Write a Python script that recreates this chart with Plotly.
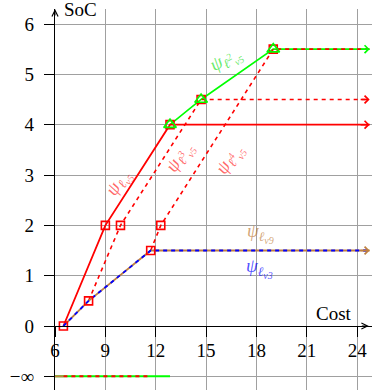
import plotly.graph_objects as go

# ---------------- data ----------------
x_ticks = [6, 9, 12, 15, 18, 21, 24]
y_ticks = [-1, 0, 1, 2, 3, 4, 5, 6]
y_ticktext = ["\u2212\u221e", "0", "1", "2", "3", "4", "5", "6"]

NEG_INF = -1          # position used for the "−∞" level

red_solid_cost = [6.5, 9.0, 12.85]
red_solid_soc = [0, 2, 4]

red_l3_cost = [8.0, 9.9, 14.7]
red_l3_soc = [0.5, 2, 4.5]

red_l4_cost = [11.7, 12.3, 19.0]
red_l4_soc = [1.5, 2, 5.5]

green_cost = [12.85, 14.7, 19.0]
green_soc = [4, 4.5, 5.5]

v3_cost = [6.5, 8.0, 11.7]
v3_soc = [0, 0.5, 1.5]
v9_cost = [6.5, 8.0, 11.7]
v9_soc = [0, 0.5, 1.5]

# "-inf" segments: [start cost, end cost]
green_neg = [6.0, 12.85]
red_neg = [6.5, 11.7]
brown_neg = [6.0, 6.5]

X_END = 24.74

RED = "#ff0000"
GREEN = "#00ff00"
BLUE = "#0000ff"
BROWN = "#bf8040"
FONT = "Liberation Serif"

fig = go.Figure()


def line(xs, ys, color, dash=None, width=1.6):
    fig.add_trace(go.Scatter(x=xs, y=ys, mode="lines",
                             line=dict(color=color, width=width, dash=dash),
                             hoverinfo="skip", showlegend=False, cliponaxis=False))


# -inf level
line(green_neg, [NEG_INF, NEG_INF], GREEN, width=2)
line(red_neg, [NEG_INF, NEG_INF], RED, dash="4px,4px", width=2)
line(brown_neg, [NEG_INF, NEG_INF], BROWN, width=2)

# main curves
line(green_cost + [X_END], green_soc + [green_soc[-1]], GREEN)
line(red_solid_cost + [X_END], red_solid_soc + [red_solid_soc[-1]], RED, width=1.8)
line(red_l3_cost + [X_END], red_l3_soc + [red_l3_soc[-1]], RED, dash="4px,4px")
line(red_l4_cost + [X_END], red_l4_soc + [red_l4_soc[-1]], RED, dash="4px,4px")
line(v9_cost + [X_END], v9_soc + [v9_soc[-1]], BROWN, width=1.8)
line(v3_cost + [X_END], v3_soc + [v3_soc[-1]], BLUE, dash="4px,4px", width=1.8)

# markers
fig.add_trace(go.Scatter(
    x=red_solid_cost + red_l3_cost + red_l4_cost,
    y=red_solid_soc + red_l3_soc + red_l4_soc,
    mode="markers", marker=dict(symbol="square-open", size=8, color=RED, line=dict(width=1.6)),
    hoverinfo="skip", showlegend=False, cliponaxis=False))
fig.add_trace(go.Scatter(
    x=green_cost, y=green_soc,
    mode="markers", marker=dict(symbol="triangle-up-open", size=11, color=GREEN, line=dict(width=1.6)),
    hoverinfo="skip", showlegend=False, cliponaxis=False))

annotations = []
# arrow heads at the ends of the curves
for yv, col in [(green_soc[-1], GREEN), (red_l3_soc[-1], RED), (red_solid_soc[-1], RED), (v9_soc[-1], BROWN)]:
    annotations.append(dict(x=X_END, y=yv, xref="x", yref="y", ax=-12, ay=0,
                            showarrow=True, arrowhead=4, arrowsize=1,
                            arrowwidth=1.5, arrowcolor=col, text=" ", opacity=1))

# axis arrows
annotations.append(dict(x=0.99, y=0.168, xref="paper", yref="paper", ax=-10, ay=0, showarrow=True,
                        arrowhead=5, arrowsize=1.2, arrowwidth=1, arrowcolor="black", text=" "))
annotations.append(dict(x=0, y=1.0, xref="paper", yref="paper", ax=0, ay=8, showarrow=True,
                        arrowhead=5, arrowsize=1.2, arrowwidth=1, arrowcolor="black", text=""))

# axis titles
annotations.append(dict(x=0.022, y=0.9974, xref="paper", yref="paper", xanchor="left", yanchor="middle",
                        text="SoC", showarrow=False, font=dict(family=FONT, size=19, color="black")))
annotations.append(dict(x=0.880, y=0.1995, xref="paper", yref="paper", xanchor="center", yanchor="middle",
                        text="Cost", showarrow=False, font=dict(family=FONT, size=19, color="black")))


def lab(sup, sub):
    s = "ψ<sub>ℓ"
    if sup:
        s += "<sup><span style='font-size:10px'>" + sup + "</span></sup>"
    s += "<sub><span style='font-size:10px'>" + sub + "</span></sub></sub>"
    return "<i>" + s + "</i>"


# curve labels
labels = [
    (16.18, 5.29, lab("2", "v5"), "rgba(0,220,0,0.6)", -30),
    (9.81, 2.84, lab("", "v5"), "rgba(255,0,0,0.6)", -58),
    (13.44, 3.34, lab("3", "v5"), "rgba(255,0,0,0.6)", -58),
    (16.42, 3.30, lab("4", "v5"), "rgba(255,0,0,0.6)", -58),
    (18.21, 1.85, lab("", "v9"), "rgba(191,128,64,0.7)", 0),
    (18.15, 1.15, lab("", "v3"), "rgba(0,0,255,0.7)", 0),
]
for lx, ly, txt, col, ang in labels:
    annotations.append(dict(x=lx, y=ly, xref="x", yref="y", text=txt, showarrow=False,
                            textangle=ang, font=dict(family=FONT, size=19, color=col)))

axis_common = dict(showline=True, linecolor="black", linewidth=1.2, zeroline=False,
                   tickcolor="black", tickwidth=1.3, ticklen=10, automargin=False,
                   tickfont=dict(family=FONT, size=19, color="black"))

fig.update_layout(
    width=372, height=390,
    margin=dict(l=55, r=0, t=9, b=0, autoexpand=False),
    paper_bgcolor="white", plot_bgcolor="white",
    xaxis=dict(range=[6, 24.88], tickvals=x_ticks, ticks="outside", anchor="free", position=0.168,
               showgrid=True, gridcolor="#a0a0a0", gridwidth=1, ticklabelstandoff=-3, **axis_common),
    yaxis=dict(range=[-1.2716, 6.298], tickvals=y_ticks, ticktext=y_ticktext, ticks="outside",
               showgrid=True, gridcolor="#a0a0a0", gridwidth=1, ticklabelstandoff=6, **axis_common),
    xaxis2=dict(range=[6, 24.88], tickvals=x_ticks, ticks="inside", overlaying="x", anchor="free",
                position=0.168, showticklabels=False, showgrid=False, showline=False, zeroline=False,
                tickcolor="black", tickwidth=1.3, ticklen=10, automargin=False),
    yaxis2=dict(range=[-1.2716, 6.298], tickvals=y_ticks, ticks="inside", overlaying="y", anchor="free",
                position=0, side="left", showticklabels=False, showgrid=False, showline=False,
                zeroline=False, tickcolor="black", tickwidth=1.3, ticklen=10, automargin=False),
    annotations=annotations,
)

fig.write_html("out.html", config={"displayModeBar": False},
               post_script="document.body.style.margin='0px';document.body.style.overflow='hidden';")
